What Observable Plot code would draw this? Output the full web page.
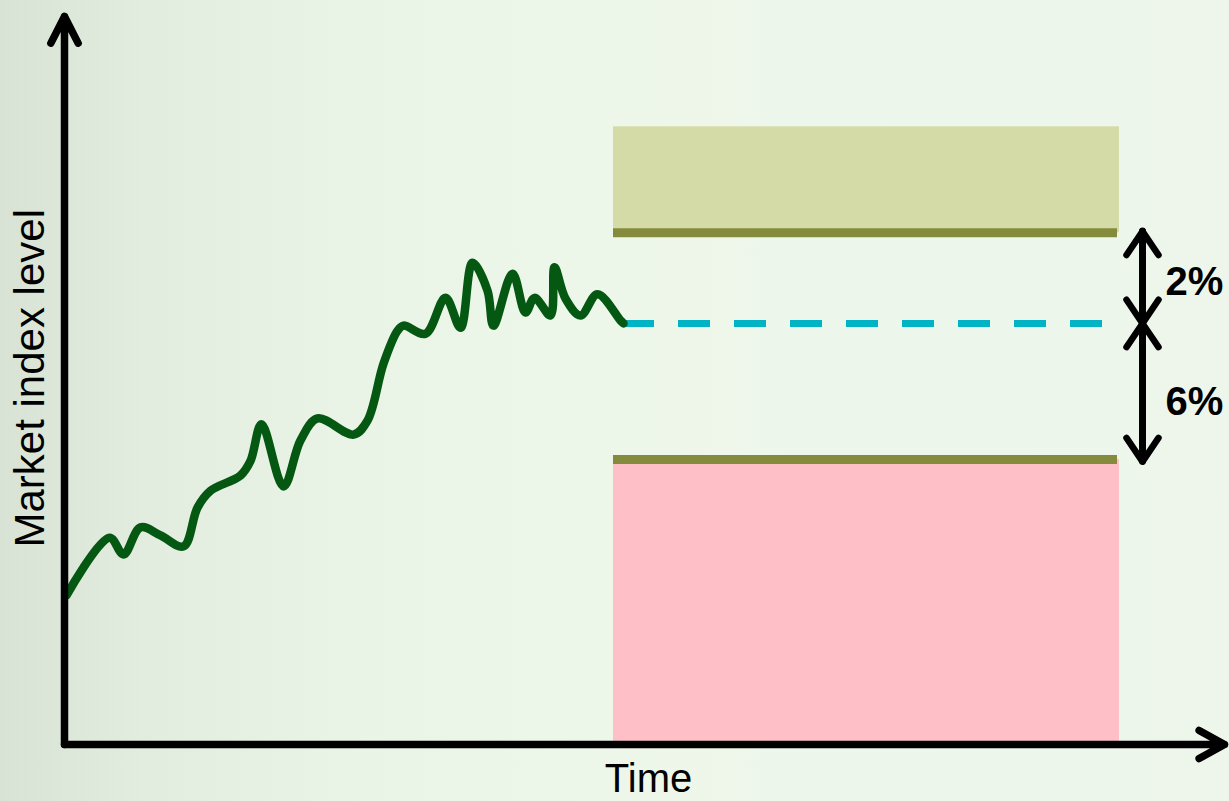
<!DOCTYPE html>
<html><head><meta charset="utf-8">
<script src="https://cdn.jsdelivr.net/npm/d3@7"></script>
<script src="https://cdn.jsdelivr.net/npm/@observablehq/plot@0.6"></script>
<style>
html,body{margin:0;padding:0;}
body{width:1229px;height:801px;overflow:hidden;background:#eef6ea;}
#chart svg{display:block;}
</style></head><body><div id="chart"></div>
<script>
// Market index path (time in weeks, level in index units)
const pathTime  = [0.2, 4.5, 5.9, 7.6, 9.6, 11.9, 13.3, 14.6, 17.6, 18.6, 19.7, 21.9, 23.6, 25.3, 28.9, 30.3, 31.9, 33.3, 33.9, 36.1, 38.1, 39.6, 40.8, 42.3, 42.9, 44.8, 46.1, 47.0, 48.6, 49.0, 50.1, 51.6, 53.3, 55.6, 55.9];
const pathLevel = [20.4, 28.3, 26.0, 29.7, 28.6, 27.1, 32.4, 34.7, 36.8, 38.8, 43.8, 35.3, 41.6, 44.6, 42.4, 44.3, 52.1, 56.6, 57.3, 56.2, 61.1, 57.0, 65.9, 62.1, 57.3, 64.4, 59.1, 61.1, 58.7, 65.3, 61.0, 58.7, 61.6, 58.0, 57.6];

// Projection window and levels
const projStart = 54.9;
const projEnd = 105.5;
const dashStart = 55.8;
const dashEnd = 103.8;
const currentLevel = 57.6;
const upperBandTop = 84.5;
const upperEdge = 70.0;
const lowerEdge = 39.0;
const lowerBandBottom = 0;
const edgeEnd = 105.3;
const arrowTime = 107.8;
const arrowUpperEnd = 70.2;
const arrowLowerEnd = 38.7;

// Axis extents
const axisTimeEnd = 116.0;
const axisLevelEnd = 99.6;

// Labels
const pctLabels = ["2%", "6%"];
const pctLevels = [63.3, 46.8];
const pctTime = 110.1;
const xLabel = "Time";
const yLabel = "Market index level";

const path = pathTime.map((t, i) => ({t, v: pathLevel[i]}));
const pcts = pctLabels.map((text, i) => ({text, v: pctLevels[i]}));
const font = "'Liberation Sans', Arial, sans-serif";

const chart = Plot.plot({
  width: 1229, height: 801,
  marginLeft: 64, marginRight: 0, marginTop: 13, marginBottom: 57,
  x: {domain: [0, 116.5], axis: null},
  y: {domain: [0, 100], axis: null},
  style: {background: "linear-gradient(to right, #d8e3d5 0%, #e2eddf 12%, #eaf4e6 28%, #edf7e9 45%, #eef6ec 100%)", fontFamily: font},
  marks: [
    Plot.rect([{}], {x1: projStart, x2: projEnd, y1: upperEdge, y2: upperBandTop, fill: "#d4dba7"}),
    Plot.rect([{}], {x1: projStart, x2: projEnd, y1: lowerBandBottom, y2: lowerEdge, fill: "#fec0c6"}),
    Plot.ruleY([upperEdge, lowerEdge], {x1: projStart, x2: edgeEnd, stroke: "#848b3d", strokeWidth: 9}),
    Plot.ruleY([currentLevel], {x1: dashStart, x2: dashEnd, stroke: "#00b4c6", strokeWidth: 7, strokeDasharray: "32,24"}),
    Plot.line(path, {x: "t", y: "v", curve: "catmull-rom", stroke: "#055811", strokeWidth: 8.5, strokeLinejoin: "round"}),
    Plot.ruleX([arrowTime], {y1: arrowLowerEnd, y2: arrowUpperEnd, stroke: "black", strokeWidth: 6.5, strokeLinecap: "round"}),
    Plot.arrow([
      {y1: currentLevel, y2: arrowUpperEnd}, {y1: arrowUpperEnd, y2: currentLevel},
      {y1: currentLevel, y2: arrowLowerEnd}, {y1: arrowLowerEnd, y2: currentLevel}
    ], {x1: arrowTime, x2: arrowTime, y1: "y1", y2: "y2", stroke: "black", strokeWidth: 6.5, headLength: 6.6, headAngle: 68, strokeLinecap: "round", strokeLinejoin: "round"}),
    Plot.arrow([{}], {x1: 0, y1: 0, x2: 0, y2: axisLevelEnd, stroke: "black", strokeWidth: 7.5, headLength: 6, headAngle: 54, strokeLinecap: "round", strokeLinejoin: "round"}),
    Plot.arrow([{}], {x1: 0, y1: 0, x2: axisTimeEnd, y2: 0, stroke: "black", strokeWidth: 7.5, headLength: 5.8, headAngle: 58, strokeLinecap: "round", strokeLinejoin: "round"}),
    Plot.text(pcts, {x: pctTime, y: "v", text: "text", textAnchor: "start", lineAnchor: "middle", fontSize: 40, fontWeight: "bold", fill: "black"}),
    Plot.text([xLabel], {x: 58.4, y: 0, text: d => d, dy: 35, textAnchor: "middle", lineAnchor: "middle", fontSize: 40, fill: "black"}),
    Plot.text([yLabel], {x: -3.4, y: 50.1, text: d => d, rotate: -90, textAnchor: "middle", lineAnchor: "middle", fontSize: 42, fill: "black"})
  ]
});
document.getElementById("chart").append(chart);
</script>
</body></html>
